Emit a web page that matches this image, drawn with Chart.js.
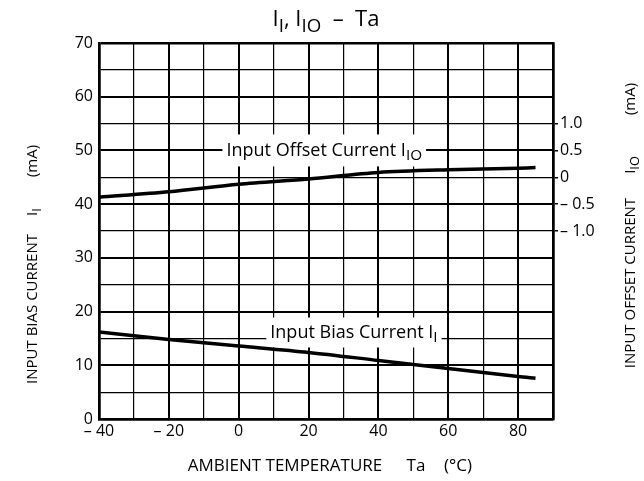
<!DOCTYPE html>
<html>
<head>
<meta charset="utf-8">
<script src="https://cdn.jsdelivr.net/npm/chart.js@4/dist/chart.umd.min.js"></script>
<style>
  body { margin: 0; background: #fff; }
  #wrap { width: 644px; height: 481px; }
</style>
</head>
<body>
<div id="wrap"><canvas id="chartCanvas"></canvas></div>
<script>
// values
var temps = [-40, -20, 0, 20, 40, 60, 80, 85];
var biasCurrent = [16.2, 14.8, 13.6, 12.4, 10.9, 9.4, 7.9, 7.6];       // I_I (mA), left axis
var offsetCurrent = [-0.37, -0.27, -0.13, -0.03, 0.09, 0.14, 0.17, 0.18]; // I_IO (mA), right axis
var xLabelTicks = [-40, -20, 0, 20, 40, 60, 80];
var leftLabelTicks = [0, 10, 20, 30, 40, 50, 60, 70];
var rightTicks = [-1.0, -0.5, 0, 0.5, 1.0];

var FONT = '"Open Sans", "DejaVu Sans", sans-serif';
Chart.defaults.font.family = FONT;
Chart.defaults.font.size = 16;
Chart.defaults.color = '#000';

function toPoints(xs, ys) {
	return xs.map(function(x, i){ return {x: x, y: ys[i]}; });
}

function dash(v) {
	return v < 0 ? '\u2013 ' + Math.abs(v) : String(v);
}

// text with subscripts: parts = [[text, isSub], ...]
function richWidth(ctx, parts, size) {
	var w = 0;
	parts.forEach(function(p){
		ctx.font = (p[1] ? size * 0.85 : size) + 'px ' + FONT;
		w += ctx.measureText(p[0]).width;
	});
	return w;
}
function drawRich(ctx, parts, x, y, size) {
	var cx = x;
	parts.forEach(function(p){
		ctx.font = (p[1] ? size * 0.85 : size) + 'px ' + FONT;
		ctx.fillText(p[0], cx, p[1] ? y + size * 0.3 : y);
		cx += ctx.measureText(p[0]).width;
	});
}
function drawRichCentered(ctx, parts, x, y, size) {
	drawRich(ctx, parts, x - richWidth(ctx, parts, size) / 2, y, size);
}
// rotated pieces along a vertical axis title
function drawVertical(ctx, x, pieces, size) {
	pieces.forEach(function(pc){
		ctx.save();
		ctx.translate(x, pc.y);
		ctx.rotate(-Math.PI / 2);
		drawRichCentered(ctx, pc.parts, 0, 0, size);
		ctx.restore();
	});
}

var labelsPlugin = {
	id: 'labelsPlugin',
	beforeDatasetsDraw: function(chart) {
		var ctx = chart.ctx, sx = chart.scales.x, sy = chart.scales.y;
		var boxes = [
			{parts: [['Input Offset Current I', false], ['IO', true]], x: 24.5, y: 50, h: 32},
			{parts: [['Input Bias Current I', false], ['I', true]], x: 33, y: 16.1, h: 30}
		];
		ctx.save();
		ctx.textBaseline = 'middle';
		boxes.forEach(function(b){
			var w = richWidth(ctx, b.parts, 18) + 8;
			var px = sx.getPixelForValue(b.x), py = sy.getPixelForValue(b.y);
			ctx.fillStyle = '#fff';
			ctx.fillRect(px - w / 2, py - b.h / 2, w, b.h);
			ctx.fillStyle = '#000';
			drawRichCentered(ctx, b.parts, px, py, 18);
		});
		ctx.restore();
	},
	afterDraw: function(chart) {
		var ctx = chart.ctx, area = chart.chartArea;
		var midX = (area.left + area.right) / 2;
		ctx.save();
		ctx.fillStyle = '#000';
		ctx.textBaseline = 'middle';
		// title
		drawRichCentered(ctx, [['I', false], ['I', true], [', I', false], ['IO', true], ['  \u2013  Ta', false]], midX, 20, 22);
		// x title
		drawRichCentered(ctx, [['AMBIENT TEMPERATURE', false]], 285, 466, 17);
		drawRichCentered(ctx, [['Ta', false]], 416, 466, 17);
		drawRichCentered(ctx, [['(\u00B0C)', false]], 458, 466, 17);
		// left title
		drawVertical(ctx, 33, [
			{parts: [['INPUT BIAS CURRENT', false]], y: 309},
			{parts: [['I', false], ['I', true]], y: 212},
			{parts: [['(mA)', false]], y: 161}
		], 15);
		// right title
		drawVertical(ctx, 631, [
			{parts: [['INPUT OFFSET CURRENT', false]], y: 283},
			{parts: [['I', false], ['IO', true]], y: 165},
			{parts: [['(mA)', false]], y: 99}
		], 15);
		ctx.restore();
	}
};

var config = {
	type: 'line',
	data: {
		datasets: [
			{
				label: 'Input Bias Current',
				data: toPoints(temps, biasCurrent),
				yAxisID: 'y',
				borderColor: '#000',
				borderWidth: 3.5,
				pointRadius: 0,
				tension: 0.3
			},
			{
				label: 'Input Offset Current',
				data: toPoints(temps, offsetCurrent),
				yAxisID: 'y2',
				borderColor: '#000',
				borderWidth: 3.5,
				pointRadius: 0,
				tension: 0.3
			}
		]
	},
	options: {
		responsive: true,
		maintainAspectRatio: false,
		animation: false,
		layout: { padding: { top: 43, left: 0, right: 0, bottom: 0 } },
		plugins: {
			legend: { display: false },
			title: { display: false },
			tooltip: { enabled: false }
		},
		scales: {
			x: {
				type: 'linear',
				min: -40,
				max: 90,
				afterFit: function(s){ s.height = 62; },
				ticks: {
					stepSize: 10,
					padding: 3,
					maxRotation: 0,
					autoSkip: false,
					callback: function(v){ return xLabelTicks.indexOf(v) >= 0 ? dash(v) : ''; }
				},
				grid: {
					color: '#000',
					drawTicks: false,
					lineWidth: function(c){
						var v = c.tick.value;
						if (v === 90 || v === -40) return 2.5;
						return v % 20 === 0 ? 2 : 1.2;
					}
				},
				border: { color: '#000', width: 2.5 }
			},
			y: {
				position: 'left',
				min: 0,
				max: 70,
				afterFit: function(s){ s.width = 99; },
				ticks: {
					stepSize: 5,
					padding: 6,
					autoSkip: false,
					callback: function(v){ return leftLabelTicks.indexOf(v) >= 0 ? String(v) : ''; }
				},
				grid: {
					color: '#000',
					drawTicks: false,
					lineWidth: function(c){
						var v = c.tick.value;
						if (v === 70 || v === 0) return 2.5;
						return v % 10 === 0 ? 2 : 1.2;
					}
				},
				border: { color: '#000', width: 2.5 }
			},
			y2: {
				position: 'right',
				min: -4.5,
				max: 2.5,
				afterFit: function(s){ s.width = 91; },
				afterBuildTicks: function(s){
					s.ticks = rightTicks.map(function(v){ return {value: v}; });
				},
				ticks: {
					padding: 2,
					autoSkip: false,
					callback: function(v){
						if (v === 0) return '0';
						return (v < 0 ? '\u2013 ' : '') + Math.abs(v).toFixed(1);
					}
				},
				grid: {
					color: '#000',
					drawOnChartArea: false,
					drawTicks: true,
					tickLength: 5,
					lineWidth: 1.5
				},
				border: { color: '#000', width: 2.5 }
			}
		}
	},
	plugins: [labelsPlugin]
};

var ctxChart = document.getElementById('chartCanvas').getContext('2d');
window.myChart = new Chart(ctxChart, config);
</script>
</body>
</html>
